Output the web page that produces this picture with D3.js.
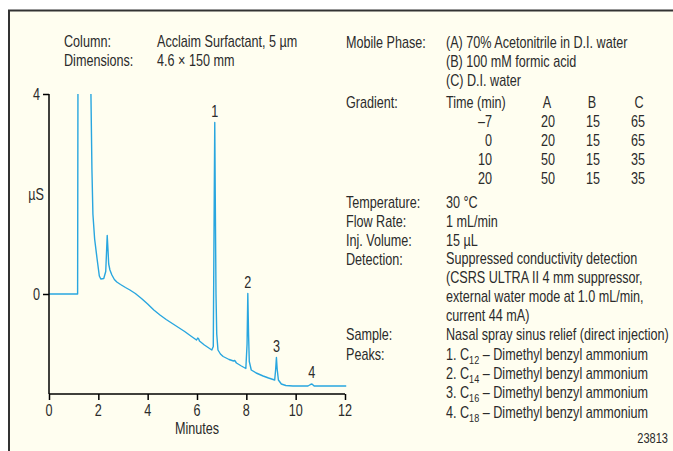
<!DOCTYPE html>
<html><head><meta charset="utf-8">
<script src="https://cdn.jsdelivr.net/npm/d3@7"></script>
<style>
html,body{margin:0;padding:0;background:#fff;}
text{font-family:"Liberation Sans",Arial,sans-serif;fill:#2b2b2b;}
</style></head>
<body><svg id="c" width="673" height="451"></svg>
<script>
// ---- data ----
const traceTime = [0,1.16,1.18,1.68,1.70,1.74,1.78,1.85,1.95,2.04,2.10,2.22,2.30,2.36,2.39,2.42,2.47,2.55,2.65,2.75,2.90,3.10,3.28,3.50,3.75,4.00,4.25,4.50,4.75,5.00,5.25,5.50,5.75,5.98,6.03,6.07,6.10,6.30,6.60,6.66,6.70,6.72,6.74,6.77,6.80,6.85,6.95,7.06,7.30,7.48,7.53,7.60,7.80,7.98,8.03,8.06,8.09,8.12,8.20,8.40,8.68,8.90,9.15,9.19,9.22,9.25,9.30,9.42,9.60,9.89,10.50,10.60,10.66,10.75,12.05];
const traceSignal = [0,0,6,6,4,2.5,1.6,1.1,0.7,0.36,0.30,0.31,0.45,1.17,0.9,0.6,0.48,0.38,0.29,0.24,0.19,0.13,0.08,0.01,-0.09,-0.20,-0.32,-0.42,-0.51,-0.59,-0.67,-0.75,-0.84,-0.92,-0.88,-0.90,-0.94,-1.02,-1.12,-1.05,2.0,3.43,2.0,0.0,-0.8,-1.12,-1.20,-1.25,-1.31,-1.34,-1.33,-1.38,-1.44,-1.49,-1.0,0.01,-0.8,-1.35,-1.52,-1.58,-1.64,-1.68,-1.72,-1.5,-1.27,-1.5,-1.72,-1.80,-1.83,-1.84,-1.84,-1.81,-1.80,-1.84,-1.84];
const peakLabels = ["1","2","3","4"];
const peakTimes = [6.72,8.06,9.22,10.65];
const peakHeights = [3.43,0.01,-1.27,-1.80];
const xTicks = [0,2,4,6,8,10,12];
const yTicks = [0,4];
const yLabel = "µS";
const xLabel = "Minutes";
const leftInfoLabels = ["Column:","Dimensions:"];
const leftInfoValues = ["Acclaim Surfactant, 5 µm","4.6 × 150 mm"];
const mobileLabel = "Mobile Phase:";
const mobileValues = ["(A) 70% Acetonitrile in D.I. water","(B) 100 mM formic acid","(C) D.I. water"];
const gradientLabel = "Gradient:";
const gradientHeader = ["Time (min)","A","B","C"];
const gradientTime = ["–7","0","10","20"];
const gradientA = ["20","20","50","50"];
const gradientB = ["15","15","15","15"];
const gradientC = ["65","65","35","35"];
const condLabels = ["Temperature:","Flow Rate:","Inj. Volume:","Detection:"];
const condValues = ["30 °C","1 mL/min","15 µL","Suppressed conductivity detection","(CSRS ULTRA II 4 mm suppressor,","external water mode at 1.0 mL/min,","current 44 mA)"];
const sampleLabel = "Sample:";
const sampleValue = "Nasal spray sinus relief (direct injection)";
const peaksLabel = "Peaks:";
const peakNums = ["1.","2.","3.","4."];
const peakSubs = ["12","14","16","18"];
const peakName = " – Dimethyl benzyl ammonium";
const figId = "23813";

// ---- drawing ----
const svg = d3.select("#c");
const FS = 16;
// horizontal condensation factor, from the width the sample line takes in the picture
const probe = svg.append("text").attr("font-size",FS).text(sampleValue);
const K = 223 / probe.node().getComputedTextLength();
probe.remove();

svg.append("rect").attr("x",9).attr("y",11).attr("width",673).attr("height",451).attr("fill","#fffef0");
svg.append("line").attr("x1",8).attr("x2",673).attr("y1",10.5).attr("y2",10.5).attr("stroke","#333").attr("stroke-width",2);
svg.append("line").attr("x1",9).attr("x2",9).attr("y1",10).attr("y2",451).attr("stroke","#333").attr("stroke-width",2);

const x = d3.scaleLinear().domain([0,12]).range([49,345]);
const y = d3.scaleLinear().domain([-2,4]).range([394,94]);

svg.append("clipPath").attr("id","clip").append("rect").attr("x",40).attr("y",y(4)).attr("width",320).attr("height",y(-2)-y(4));

const pts = traceTime.map((t,i)=>[t,traceSignal[i]]);
svg.append("path").datum(pts).attr("clip-path","url(#clip)")
  .attr("fill","none").attr("stroke","#29a6df").attr("stroke-width",1.4).attr("stroke-linejoin","round")
  .attr("d",d3.line().x(d=>x(d[0])).y(d=>y(d[1])));

function txt(xp,yp,s,anchor){
  return svg.append("text").attr("transform",`translate(${xp},${yp}) scale(${K},1)`)
    .attr("font-size",FS).attr("text-anchor",anchor||"start").text(s);
}

const xa = svg.append("g").attr("transform",`translate(0,${y(-2)})`)
  .call(d3.axisBottom(x).tickValues(xTicks).tickSize(6).tickFormat(""));
const ya = svg.append("g").attr("transform",`translate(${x(0)},0)`)
  .call(d3.axisLeft(y).tickValues(yTicks).tickSize(6).tickFormat(""));
xa.select(".domain").attr("stroke","#000").attr("stroke-width",1.5).attr("d",`M${x(0)},0H${x(12)}`);
ya.select(".domain").attr("stroke","#000").attr("stroke-width",1.5).attr("d",`M0,${y(4)}V${y(-2)}`);
[xa,ya].forEach(a=>a.selectAll(".tick line").attr("stroke","#000").attr("stroke-width",1.5));
xTicks.forEach(v=>txt(x(v),y(-2)+22,String(v),"middle"));
yTicks.forEach(v=>txt(x(0)-9,y(v)+6,String(v),"end"));

txt(36,y(2)+6,yLabel,"middle");
txt(x(6),434,xLabel,"middle");
peakLabels.forEach((d,i)=>txt(x(peakTimes[i]),y(peakHeights[i])-6,d,"middle"));

leftInfoLabels.forEach((s,i)=>txt(64,47+i*19,s));
leftInfoValues.forEach((s,i)=>txt(157,47+i*19,s));
txt(346,48,mobileLabel);
mobileValues.forEach((s,i)=>txt(446,48+i*19,s));
txt(346,108,gradientLabel);
txt(446,108,gradientHeader[0]);
[[gradientHeader[1],547],[gradientHeader[2],592],[gradientHeader[3],639]].forEach(([s,cx])=>txt(cx,108,s,"middle"));
gradientTime.forEach((s,i)=>txt(492,127+i*19,s,"end"));
gradientA.forEach((s,i)=>txt(548,127+i*19,s,"middle"));
gradientB.forEach((s,i)=>txt(593,127+i*19,s,"middle"));
gradientC.forEach((s,i)=>txt(638,127+i*19,s,"middle"));
condLabels.forEach((s,i)=>txt(346,208+i*19,s));
condValues.forEach((s,i)=>txt(446,208+i*18.8,s));
txt(346,340,sampleLabel); txt(446,340,sampleValue);
txt(346,360,peaksLabel);
peakNums.forEach((n,i)=>{
  const t = txt(446,360+i*19.2,n+" C");
  t.append("tspan").attr("font-size",FS*0.72).attr("dy",4).text(peakSubs[i]);
  t.append("tspan").attr("dy",-4).text(peakName);
});
txt(668,443,figId,"end").attr("font-size",14);
</script></body></html>
